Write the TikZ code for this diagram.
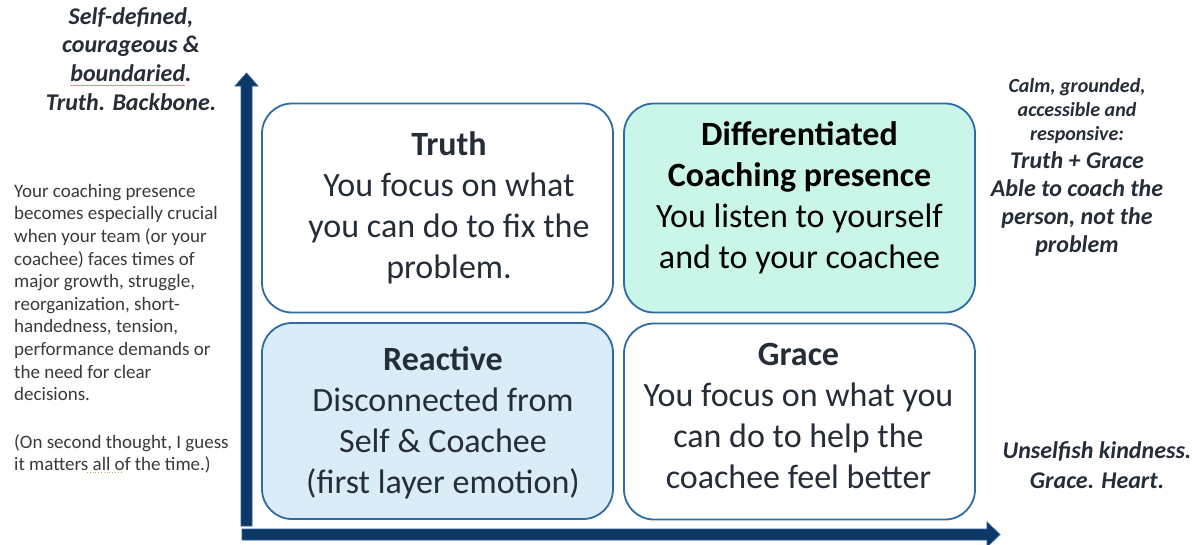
\documentclass[tikz,border=0pt]{standalone}
\usepackage{fontspec}
\setmainfont{Carlito}
\definecolor{axisnavy}{RGB}{12,57,104}
\definecolor{axisedge}{RGB}{44,92,146}
\definecolor{boxline}{RGB}{46,108,166}
\definecolor{mint}{RGB}{202,245,233}
\definecolor{paleblue}{RGB}{218,236,248}
\definecolor{inkdark}{RGB}{37,45,56}
\definecolor{inkgray}{RGB}{58,58,60}
\definecolor{spellred}{RGB}{240,140,140}
\definecolor{spellgold}{RGB}{200,165,100}
\begin{document}
\begin{tikzpicture}[x=1pt,y=-1pt,
  quad/.style={draw=boxline, line width=1.8pt, rounded corners=30pt,
    inner sep=0pt, minimum width=351pt, minimum height=209pt},
  lowquad/.style={quad, minimum height=196pt},
  quadtext/.style={anchor=north, align=center, inner sep=0pt,
    font=\fontsize{34}{41}\selectfont, text=inkdark},
  sidenote/.style={anchor=north, align=center, inner sep=0pt, text=inkdark},
  arrowbody/.style={fill=axisnavy, draw=axisedge, line width=0.7pt}]

% canvas
\useasboundingbox (0,0) rectangle (1196,544);
\fill[white] (0,0) rectangle (1196,544);
\clip (0,0) rectangle (1196,544);

% axes
\path[arrowbody] (241,526) -- (241,86) -- (235,86) -- (246.5,73)
  -- (258,86) -- (252,86) -- (252,526) -- cycle;
\path[arrowbody] (242,529) -- (987,529) -- (987,522) -- (1000,534.5)
  -- (987,547) -- (987,540) -- (242,540) -- cycle;

% quadrants
\node[quad, fill=white]        (truth) at (437.5,208) {};
\node[quad, fill=mint]         (diff)  at (799.5,208) {};
\node[lowquad, fill=paleblue]  (react) at (437.5,421) {};
\node[lowquad, fill=white]     (grace) at (799.5,421.5) {};

\node[quadtext] (truthtxt) at (449,126.3)
  {\strut\textbf{Truth}\\You focus on what\\you can do to fix the\\problem.};
\node[quadtext, text=black] (difftxt) at (799.5,116.3)
  {\strut\textbf{Differentiated}\\\textbf{Coaching presence}\\You listen to yourself\\and to your coachee};
\node[quadtext] (reacttxt) at (443,341.3)
  {\strut\textbf{Reactive}\\Disconnected from\\Self \& Coachee\\(first layer emotion)};
\node[quadtext] (gracetxt) at (798.5,336.3)
  {\strut\textbf{Grace}\\You focus on what you\\can do to help the\\coachee feel better};

% side notes
\node[sidenote, font=\fontsize{24}{28.7}\selectfont\bfseries\itshape] (topleft) at (131,3.9)
  {\strut Self-defined,\\courageous \&\\boundaried.\\Truth. Backbone.};
\draw[spellred, line width=0.8pt] (70,85.5) -- (185,85.5);

\node[anchor=north west, align=left, inner sep=0pt, text=inkgray,
  font=\fontsize{19}{22.6}\selectfont] (context) at (14,181.2)
  {\strut Your coaching presence\\becomes especially crucial\\when your team (or your\\coachee) faces times of\\major growth, struggle,\\reorganization, short-\\handedness, tension,\\performance demands or\\the need for clear\\decisions.};
\node[anchor=north west, align=left, inner sep=0pt, text=inkgray,
  font=\fontsize{19}{22}\selectfont] (aside) at (14,432.6)
  {\strut(On second thought, I guess\\it matters all of the time.)};
\draw[spellgold, line width=0.8pt, dotted] (87,472) -- (122,472);

\node[sidenote, font=\fontsize{20}{24}\selectfont\bfseries\itshape] (calm) at (1077,75.2)
  {\strut Calm, grounded,\\accessible and\\responsive:};
\node[sidenote, font=\fontsize{24}{28}\selectfont\bfseries\itshape] (both) at (1077,148.4)
  {\strut Truth + Grace\\Able to coach the\\person, not the\\problem};

\node[sidenote, font=\fontsize{24}{30}\selectfont\bfseries\itshape] (kind) at (1097,437)
  {\strut Unselfish kindness.\\Grace. Heart.};
\end{tikzpicture}
\end{document}
